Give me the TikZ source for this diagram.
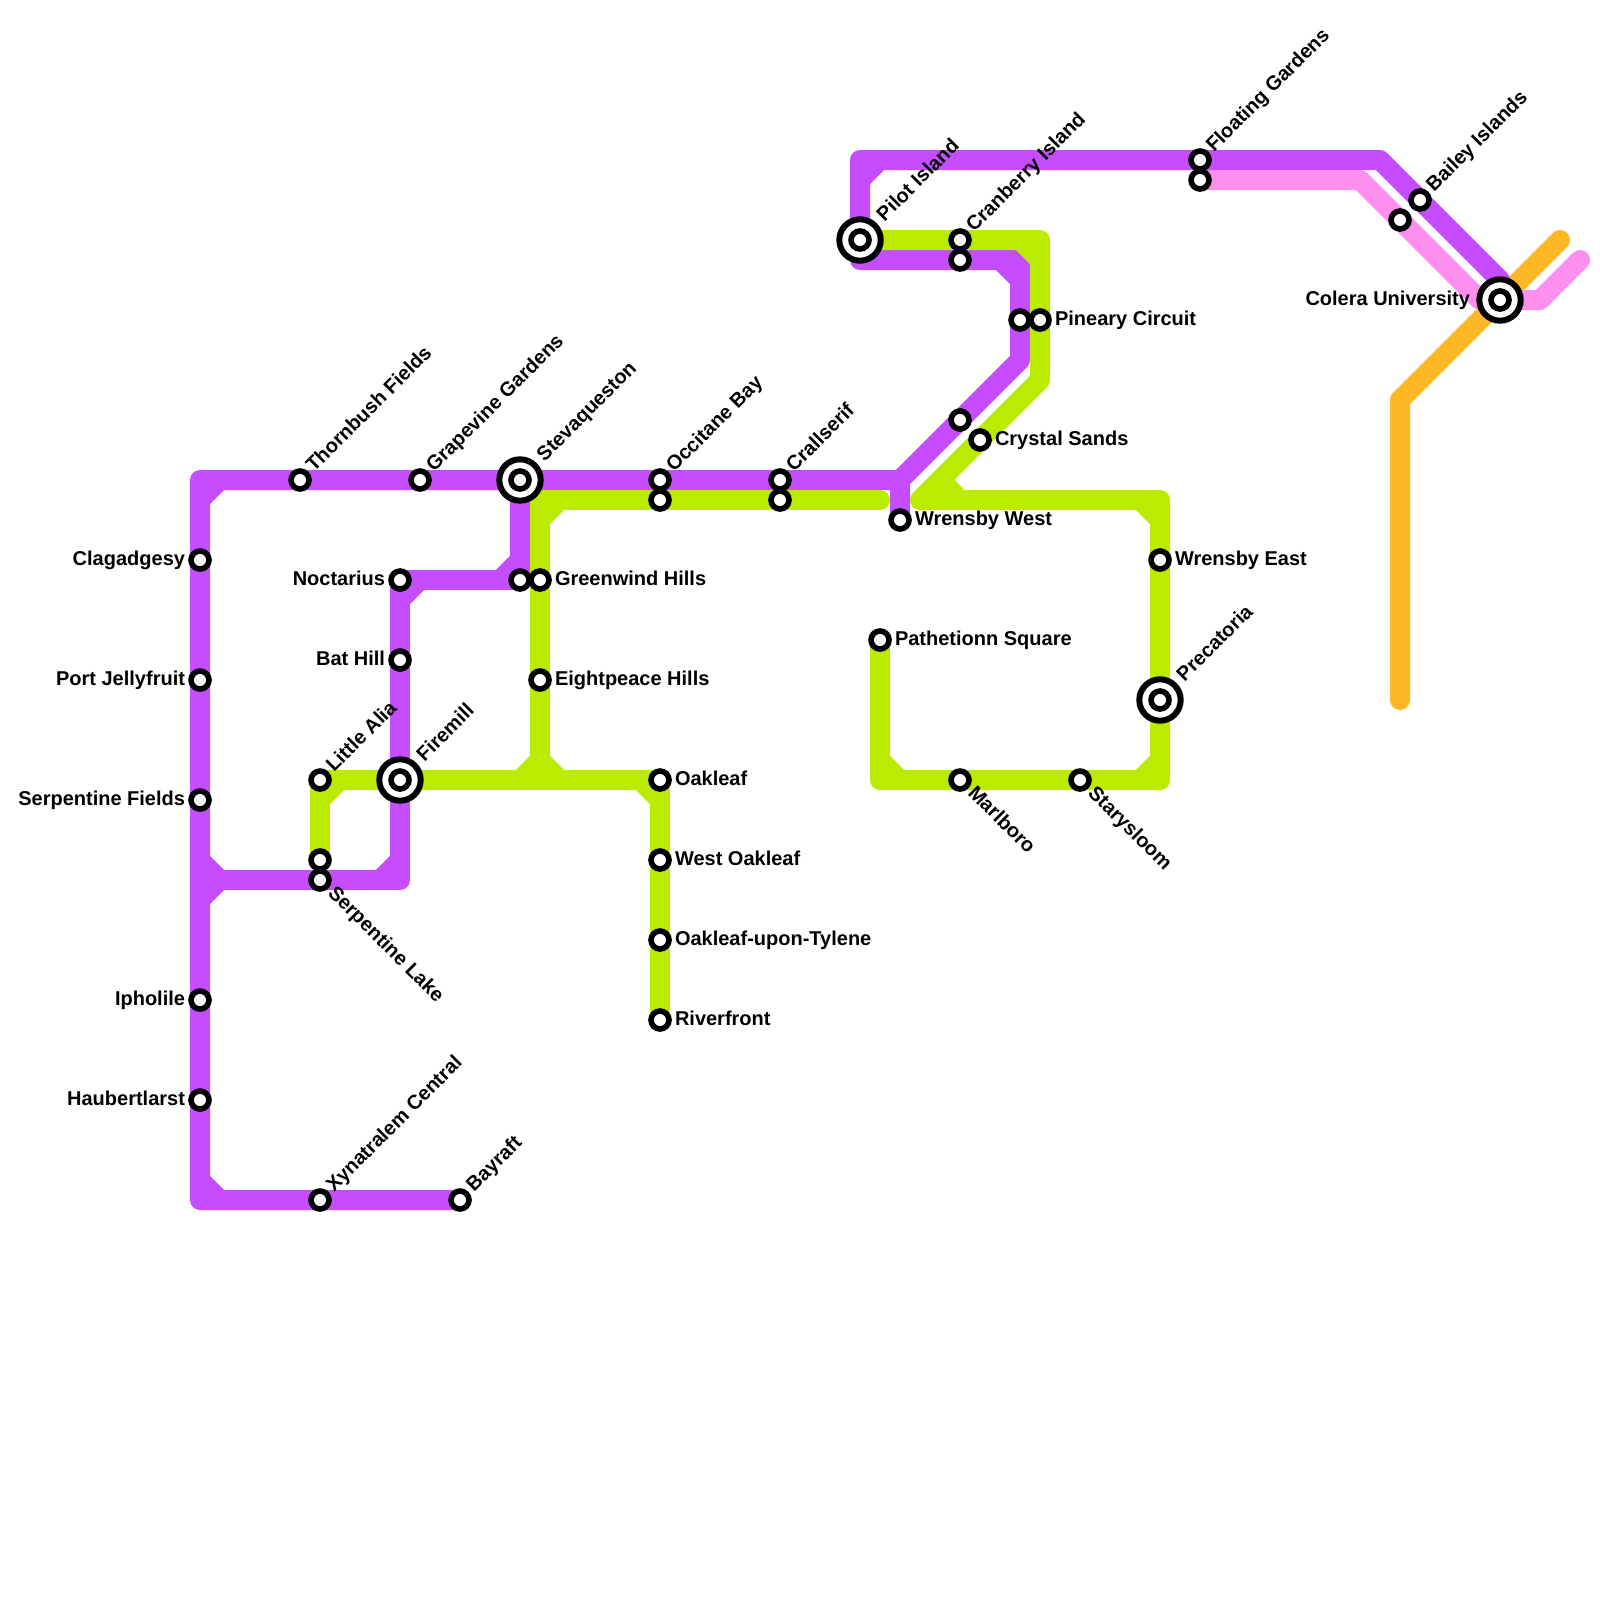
\documentclass[tikz,border=0pt]{standalone}
\usepackage{fontspec}
\setmainfont{Liberation Sans}
\pgfdeclarelayer{bg}
\pgfsetlayers{bg,main}
\definecolor{lpurple}{HTML}{C64CFF}
\definecolor{lgreen}{HTML}{BBEB00}
\definecolor{lpink}{HTML}{FF8FEF}
\definecolor{lorange}{HTML}{FFB726}
\tikzset{
  x=1pt,y=-1pt,
  stn/.style={circle,draw=black,fill=white,line width=5.6pt,minimum size=18pt,inner sep=0pt,outer sep=0pt},
  hub/.style={circle,draw=black,fill=white,line width=6pt,minimum size=41.4pt,inner sep=0pt,outer sep=0pt},
  lb/.style={inner sep=0pt,outer sep=0pt,text=black,font=\fontsize{20}{22}\selectfont\bfseries},
  tr/.style={line width=20pt,line join=round,line cap=round},
}
% station + labels
\newcommand\st[3]{\node[stn] (#1) at (#2,#3) {};}
\newcommand\hb[3]{\node[hub] (#1h) at (#2,#3) {};\node[stn] (#1) at (#2,#3) {};}
\newcommand\lR[2]{\node[lb,anchor=base west,xshift=15pt,yshift=-5pt] at (#1) {#2};}
\newcommand\lL[2]{\node[lb,anchor=base east,xshift=-15pt,yshift=-5pt] at (#1) {#2};}
\newcommand\lU[2]{\node[lb,anchor=base west,xshift=14.1pt,yshift=7.1pt,rotate=45] at (#1) {#2};}
\newcommand\lD[2]{\node[lb,anchor=base west,xshift=7.1pt,yshift=-14.1pt,rotate=-45] at (#1) {#2};}
\newcommand\lUh[2]{\node[lb,anchor=base west,xshift=24.7pt,yshift=17.7pt,rotate=45] at (#1) {#2};}
% inner chamfer: colour, corner x,y, direction x,y
\newcommand\ch[5]{\fill[#1] (#2,#3) -- ++(#4*14.2,0) -- ++(-#4*14.2,#5*14.2) -- cycle;}
\begin{document}
\begin{tikzpicture}
\useasboundingbox (0,0) rectangle (1600,1600);
% stations
\st{clag}{200}{560} \st{port}{200}{680} \st{serpf}{200}{800} \st{iph}{200}{1000} \st{haub}{200}{1100}
\st{thorn}{300}{480} \st{grape}{420}{480} \hb{stev}{520}{480}
\st{occ}{660}{480} \st{occb}{660}{500} \st{crall}{780}{480} \st{crallb}{780}{500}
\hb{pilot}{860}{240} \st{cran}{960}{240} \st{cranb}{960}{260}
\st{pinea}{1020}{320} \st{pine}{1040}{320}
\st{crysa}{960}{420} \st{crys}{980}{440}
\st{wrw}{900}{520} \st{wre}{1160}{560} \st{path}{880}{640} \hb{prec}{1160}{700}
\st{marl}{960}{780} \st{stary}{1080}{780}
\st{flo}{1200}{160} \st{flob}{1200}{180}
\st{bail}{1420}{200} \st{baila}{1400}{220}
\hb{col}{1500}{300}
\st{xyn}{320}{1200} \st{bay}{460}{1200}
\st{alia}{320}{780} \hb{fire}{400}{780}
\st{serpa}{320}{860} \st{serp}{320}{880}
\st{bat}{400}{660} \st{noc}{400}{580}
\st{greena}{520}{580} \st{green}{540}{580} \st{eight}{540}{680}
\st{oak}{660}{780} \st{woak}{660}{860} \st{tyl}{660}{940} \st{riv}{660}{1020}
% labels
\lL{clag}{Clagadgesy} \lL{port}{Port Jellyfruit} \lL{serpf}{Serpentine Fields}
\lL{iph}{Ipholile} \lL{haub}{Haubertlarst} \lL{noc}{Noctarius} \lL{bat}{Bat Hill}
\node[lb,anchor=base east,xshift=-30pt,yshift=-5pt] at (col) {Colera University};
\lU{thorn}{Thornbush Fields} \lU{grape}{Grapevine Gardens} \lUh{stev}{Stevaqueston}
\lU{occ}{Occitane Bay} \lU{crall}{Crallserif} \lUh{pilot}{Pilot Island}
\lU{cran}{Cranberry Island} \lU{flo}{Floating Gardens} \lU{bail}{Bailey Islands}
\lU{alia}{Little Alia} \lUh{fire}{Firemill} \lU{xyn}{Xynatralem Central} \lU{bay}{Bayraft}
\lUh{prec}{Precatoria}
\lD{serp}{Serpentine Lake} \lD{marl}{Marlboro} \lD{stary}{Starysloom}
\lR{green}{Greenwind Hills} \lR{eight}{Eightpeace Hills} \lR{oak}{Oakleaf}
\lR{woak}{West Oakleaf} \lR{tyl}{Oakleaf-upon-Tylene} \lR{riv}{Riverfront}
\lR{path}{Pathetionn Square} \lR{wrw}{Wrensby West} \lR{wre}{Wrensby East}
\lR{pine}{Pineary Circuit} \lR{crys}{Crystal Sands}
% free end points and bends
\coordinate (pA) at (200,480); \coordinate (pB) at (200,1200); \coordinate (pC) at (900,480);
\coordinate (pD) at (1020,360); \coordinate (pE) at (1020,260); \coordinate (pF) at (860,260);
\coordinate (pG) at (860,160); \coordinate (pH) at (1380,160); \coordinate (pI) at (1500,280);
\coordinate (pJ) at (200,880); \coordinate (pK) at (400,880); \coordinate (pL) at (400,580);
\coordinate (pM) at (520,580);
\coordinate (gA) at (540,500); \coordinate (gB) at (880,500); \coordinate (gC) at (540,780);
\coordinate (gD) at (1040,240); \coordinate (gE) at (1040,380); \coordinate (gF) at (920,500);
\coordinate (gG) at (1160,500); \coordinate (gH) at (1160,780); \coordinate (gI) at (880,780);
\coordinate (kA) at (1360,180); \coordinate (kB) at (1480,300); \coordinate (kC) at (1540,300); \coordinate (kD) at (1580,260);
\coordinate (oA) at (1400,700); \coordinate (oB) at (1400,400); \coordinate (oC) at (1560,240);
\begin{pgfonlayer}{bg}
\fill[white] (0,0) rectangle (1600,1600);
% orange
\draw[tr,lorange] (oA) -- (oB) -- (oC);
% pink
\draw[tr,lpink] (flob.center) -- (kA) -- (kB) -- (kC) -- (kD);
% purple
\draw[tr,lpurple] (bay.center) -- (pB) -- (pA) -- (pC) -- (pD) -- (pE) -- (pF) -- (pG) -- (pH) -- (pI) -- (col.center);
\draw[tr,lpurple] (pJ) -- (pK) -- (pL) -- (pM) -- (stev.center);
\draw[tr,lpurple] (pC) -- (wrw.center);
\ch{lpurple}{210}{490}{1}{1}
\ch{lpurple}{210}{870}{1}{-1}
\ch{lpurple}{210}{890}{1}{1}
\ch{lpurple}{210}{1190}{1}{-1}
\ch{lpurple}{390}{870}{-1}{-1}
\ch{lpurple}{410}{590}{1}{1}
\ch{lpurple}{510}{570}{-1}{-1}
\ch{lpurple}{870}{170}{1}{1}
\ch{lpurple}{1010}{270}{-1}{1}
% green
\draw[tr,lgreen] (gB) -- (gA) -- (gC);
\draw[tr,lgreen] (serpa.center) -- (alia.center) -- (oak.center) -- (riv.center);
\draw[tr,lgreen] (pilot.center) -- (gD) -- (gE) -- (gF) -- (gG) -- (gH) -- (gI) -- (path.center);
\ch{lgreen}{550}{510}{1}{1}
\ch{lgreen}{530}{770}{-1}{-1}
\ch{lgreen}{550}{770}{1}{-1}
\ch{lgreen}{330}{790}{1}{1}
\ch{lgreen}{650}{790}{-1}{1}
\ch{lgreen}{1030}{250}{-1}{1}
\ch{lgreen}{1150}{510}{-1}{1}
\ch{lgreen}{1150}{770}{-1}{-1}
\ch{lgreen}{890}{770}{1}{-1}
\fill[lgreen] (944,490) -- (954,479) -- (964,490) -- cycle;
\end{pgfonlayer}
\end{tikzpicture}
\end{document}
